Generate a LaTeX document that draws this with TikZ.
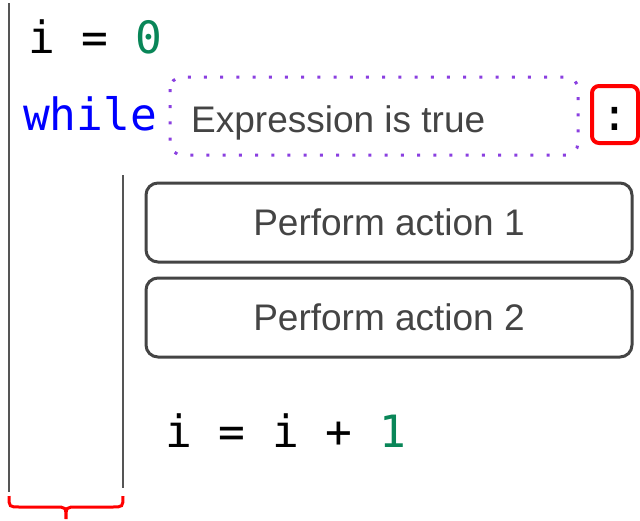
\documentclass[tikz,border=0pt]{standalone}
\usepackage{fontspec}
\setmainfont{Liberation Sans}
\newfontfamily\codefont{DejaVu Sans Mono}
\definecolor{kwblue}{HTML}{0000FF}
\definecolor{numgreen}{HTML}{098658}
\definecolor{boxgray}{HTML}{444444}
\definecolor{linegray}{HTML}{555555}
\definecolor{dotpurple}{HTML}{8A3FE0}
\definecolor{bracered}{HTML}{FF0000}
\tikzset{
  codetext/.style={anchor=base west, inner sep=0pt, font=\codefont\fontsize{44.5}{48}\selectfont},
  labeltext/.style={inner sep=0pt, text=boxgray, font=\fontsize{37}{40}\selectfont},
  actionbox/.style={draw=boxgray, line width=3pt, rounded corners=12pt, minimum width=486pt, minimum height=79pt, text=boxgray, inner sep=0pt, font=\fontsize{37}{40}\selectfont},
  condbox/.style={draw=dotpurple, line width=3pt, rounded corners=12pt, dash pattern=on 3pt off 13.2pt},
  colonbox/.style={draw=bracered, line width=4pt, rounded corners=7pt},
  guide/.style={draw=linegray, line width=2pt},
  bracepath/.style={draw=bracered, line width=3pt}
}
\begin{document}
\begin{tikzpicture}[x=1pt,y=-1pt]
\useasboundingbox (0,0) rectangle (640,520);
% guide lines
\coordinate (g1t) at (9,3);
\coordinate (g1b) at (9,492);
\coordinate (g2t) at (123,175);
\coordinate (g2b) at (123,488);
\draw[guide] (g1t) -- (g1b);
\draw[guide] (g2t) -- (g2b);
% code lines
\node[codetext] (init) at (28,53) {i = \textcolor{numgreen}{0}};
\node[codetext, text=kwblue] (while) at (23,130) {while};
\node[codetext] (incr) at (165,447) {i = i + \textcolor{numgreen}{1}};
% condition
\draw[condbox] (170,77) rectangle (578,155);
\node[labeltext, anchor=base west] (cond) at (191,132) {Expression is true};
% colon
\draw[colonbox] (592,86) rectangle (638,143);
\node[codetext, anchor=base] (colon) at (615,130) {:};
% actions
\node[actionbox] (act1) at (389,222.5) {Perform action 1};
\node[actionbox] (act2) at (389,317.5) {Perform action 2};
% brace
\coordinate (bl) at (9,496);
\coordinate (br) at (123,496);
\coordinate (btip) at (66,519);
\draw[bracepath] (bl) .. controls (9,507) .. (20,507) -- (55,507) .. controls (66,507) .. (btip)
  .. controls (66,507) .. (77,507) -- (112,507) .. controls (123,507) .. (br);
\end{tikzpicture}
\end{document}
